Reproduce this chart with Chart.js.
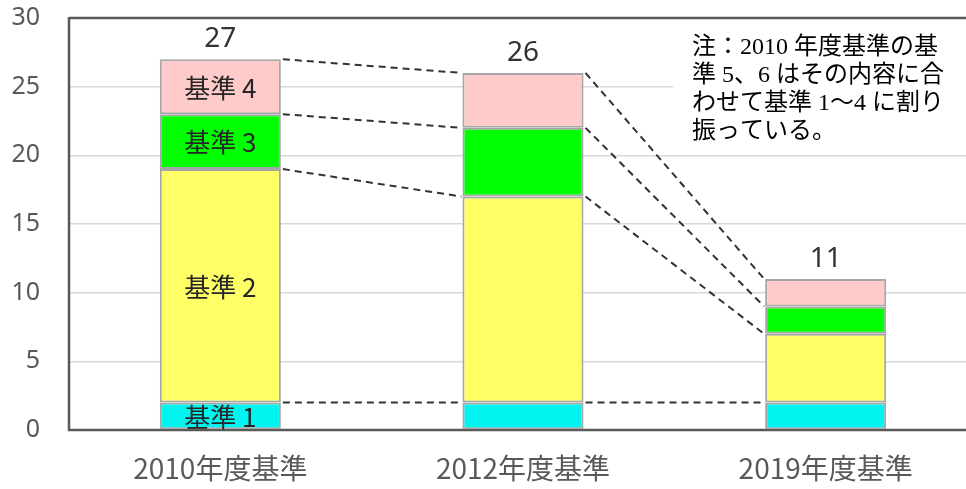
<!DOCTYPE html>
<html>
<head>
<meta charset="utf-8">
<script src="https://cdn.jsdelivr.net/npm/chart.js@4"></script>
<style>
  body { margin: 0; background: #fff; overflow: hidden; }
  #frame { width: 966px; height: 489px; overflow: hidden; position: relative; }
  #box { width: 980px; height: 489px; position: absolute; left: 0; top: 0; }
</style>
</head>
<body>
<div id="frame"><div id="box"><canvas id="chartCanvas"></canvas></div></div>
<script>
// カテゴリと各基準の件数（下から積み上げ）
var categories = ['2010年度基準', '2012年度基準', '2019年度基準']
var seriesNames = ['基準 1', '基準 2', '基準 3', '基準 4']
var kijun1 = [2, 2, 2]
var kijun2 = [17, 15, 5]
var kijun3 = [4, 5, 2]
var kijun4 = [4, 4, 2]
var yTicks = [0, 5, 10, 15, 20, 25, 30]
var noteLines = ['注：2010 年度基準の基', '準 5、6 はその内容に合', 'わせて基準 1～4 に割り', '振っている。']

var seriesValues = [kijun1, kijun2, kijun3, kijun4]
var colorList = ['#00F5F0', '#FFFF66', '#00FF00', '#FFCACA']

// 合計はそれぞれの積み上げから計算する
var totals = categories.map((c, i) => seriesValues.reduce((s, arr) => s + arr[i], 0))

var datasets = seriesValues.map((vals, idx) => {
    return {
        label: seriesNames[idx],
        data: vals,
        backgroundColor: colorList[idx],
        borderColor: '#A6A6A6',
        borderWidth: 2,
        borderSkipped: false,
        categoryPercentage: 0.4,
        barPercentage: 1
    }
})

// 軸のはみ出し分の余白はなしにする
function noPad(scale) {
    scale.paddingTop = 0
    scale.paddingBottom = 0
    scale.paddingLeft = 0
    scale.paddingRight = 0
}

// 棒と棒をつなぐ破線、ラベル、注記を描く
var extras = {
    id: 'extras',
    beforeDatasetsDraw(chart) {
        var ctx = chart.ctx
        var a = chart.chartArea
        ctx.save()
        ctx.strokeStyle = '#595959'
        ctx.lineWidth = 2.5
        ctx.beginPath()
        ctx.moveTo(a.left, a.top)
        ctx.lineTo(a.right + 5, a.top)
        ctx.moveTo(a.left, a.top - 1)
        ctx.lineTo(a.left, a.bottom)
        ctx.lineTo(a.right + 5, a.bottom)
        ctx.stroke()
        ctx.restore()
    },
    afterDatasetsDraw(chart) {
        var ctx = chart.ctx
        var metas = chart.data.datasets.map((d, i) => chart.getDatasetMeta(i))
        ctx.save()
        // 破線
        ctx.strokeStyle = '#333'
        ctx.lineWidth = 2
        ctx.setLineDash([7, 5])
        metas.forEach(meta => {
            for (var i = 0; i < meta.data.length - 1; i++) {
                var b1 = meta.data[i], b2 = meta.data[i + 1]
                ctx.beginPath()
                ctx.moveTo(b1.x + b1.width / 2 + 2, b1.y)
                ctx.lineTo(b2.x - b2.width / 2 - 1, b2.y)
                ctx.stroke()
            }
        })
        ctx.setLineDash([])

        // 2010年度の棒の中の基準名
        ctx.fillStyle = '#262626'
        ctx.textAlign = 'center'
        ctx.textBaseline = 'middle'
        ctx.font = '26px "Noto Sans CJK JP"'
        metas.forEach((meta, idx) => {
            var bar = meta.data[0]
            ctx.fillText(seriesNames[idx], bar.x, (bar.y + bar.base) / 2 + 1)
        })

        // 合計
        ctx.fillStyle = '#333'
        ctx.font = '28px "Noto Sans", "Noto Sans CJK JP"'
        var top = metas[metas.length - 1]
        top.data.forEach((bar, i) => {
            ctx.fillText(String(totals[i]), bar.x, bar.y - 20)
        })

        // 注記
        ctx.fillStyle = '#fff'
        ctx.fillRect(673, 26, 300, 124)
        ctx.fillStyle = '#000'
        ctx.textAlign = 'left'
        ctx.font = '24px "Liberation Serif", "Noto Sans CJK JP"'
        noteLines.forEach((line, i) => {
            ctx.fillText(line, 692, 48 + i * 28)
        })
        ctx.restore()
    }
}

const canvasChart = document.getElementById('chartCanvas')
var myChart = new Chart(canvasChart, {
    type: 'bar',
    data: { labels: categories, datasets: datasets },
    options: {
        responsive: true,
        maintainAspectRatio: false,
        animation: false,
        events: [],
        layout: { padding: { top: 18, right: 3, left: 0, bottom: 0 } },
        plugins: { legend: { display: false }, tooltip: { enabled: false } },
        scales: {
            x: {
                stacked: true,
                grid: { display: false, drawTicks: false },
                border: { display: false },
                ticks: { color: '#595959', font: { size: 28, family: '"Noto Sans CJK JP"' }, padding: 22 },
                afterFit(scale) { scale.height = 59; noPad(scale) }
            },
            y: {
                stacked: true,
                min: 0,
                max: 30,
                afterBuildTicks(scale) { scale.ticks = yTicks.map(v => ({ value: v })) },
                grid: {
                    drawTicks: false,
                    color: ctx => (ctx.tick && (ctx.tick.value === 0 || ctx.tick.value === 30)) ? 'rgba(0,0,0,0)' : '#D9D9D9',
                    lineWidth: 1.5
                },
                border: { display: false },
                ticks: { color: '#595959', font: { size: 25, family: '"Noto Sans"' }, padding: 29 },
                afterFit(scale) { scale.width = 69; noPad(scale) }
            }
        }
    },
    plugins: [extras]
})
</script>
</body>
</html>
